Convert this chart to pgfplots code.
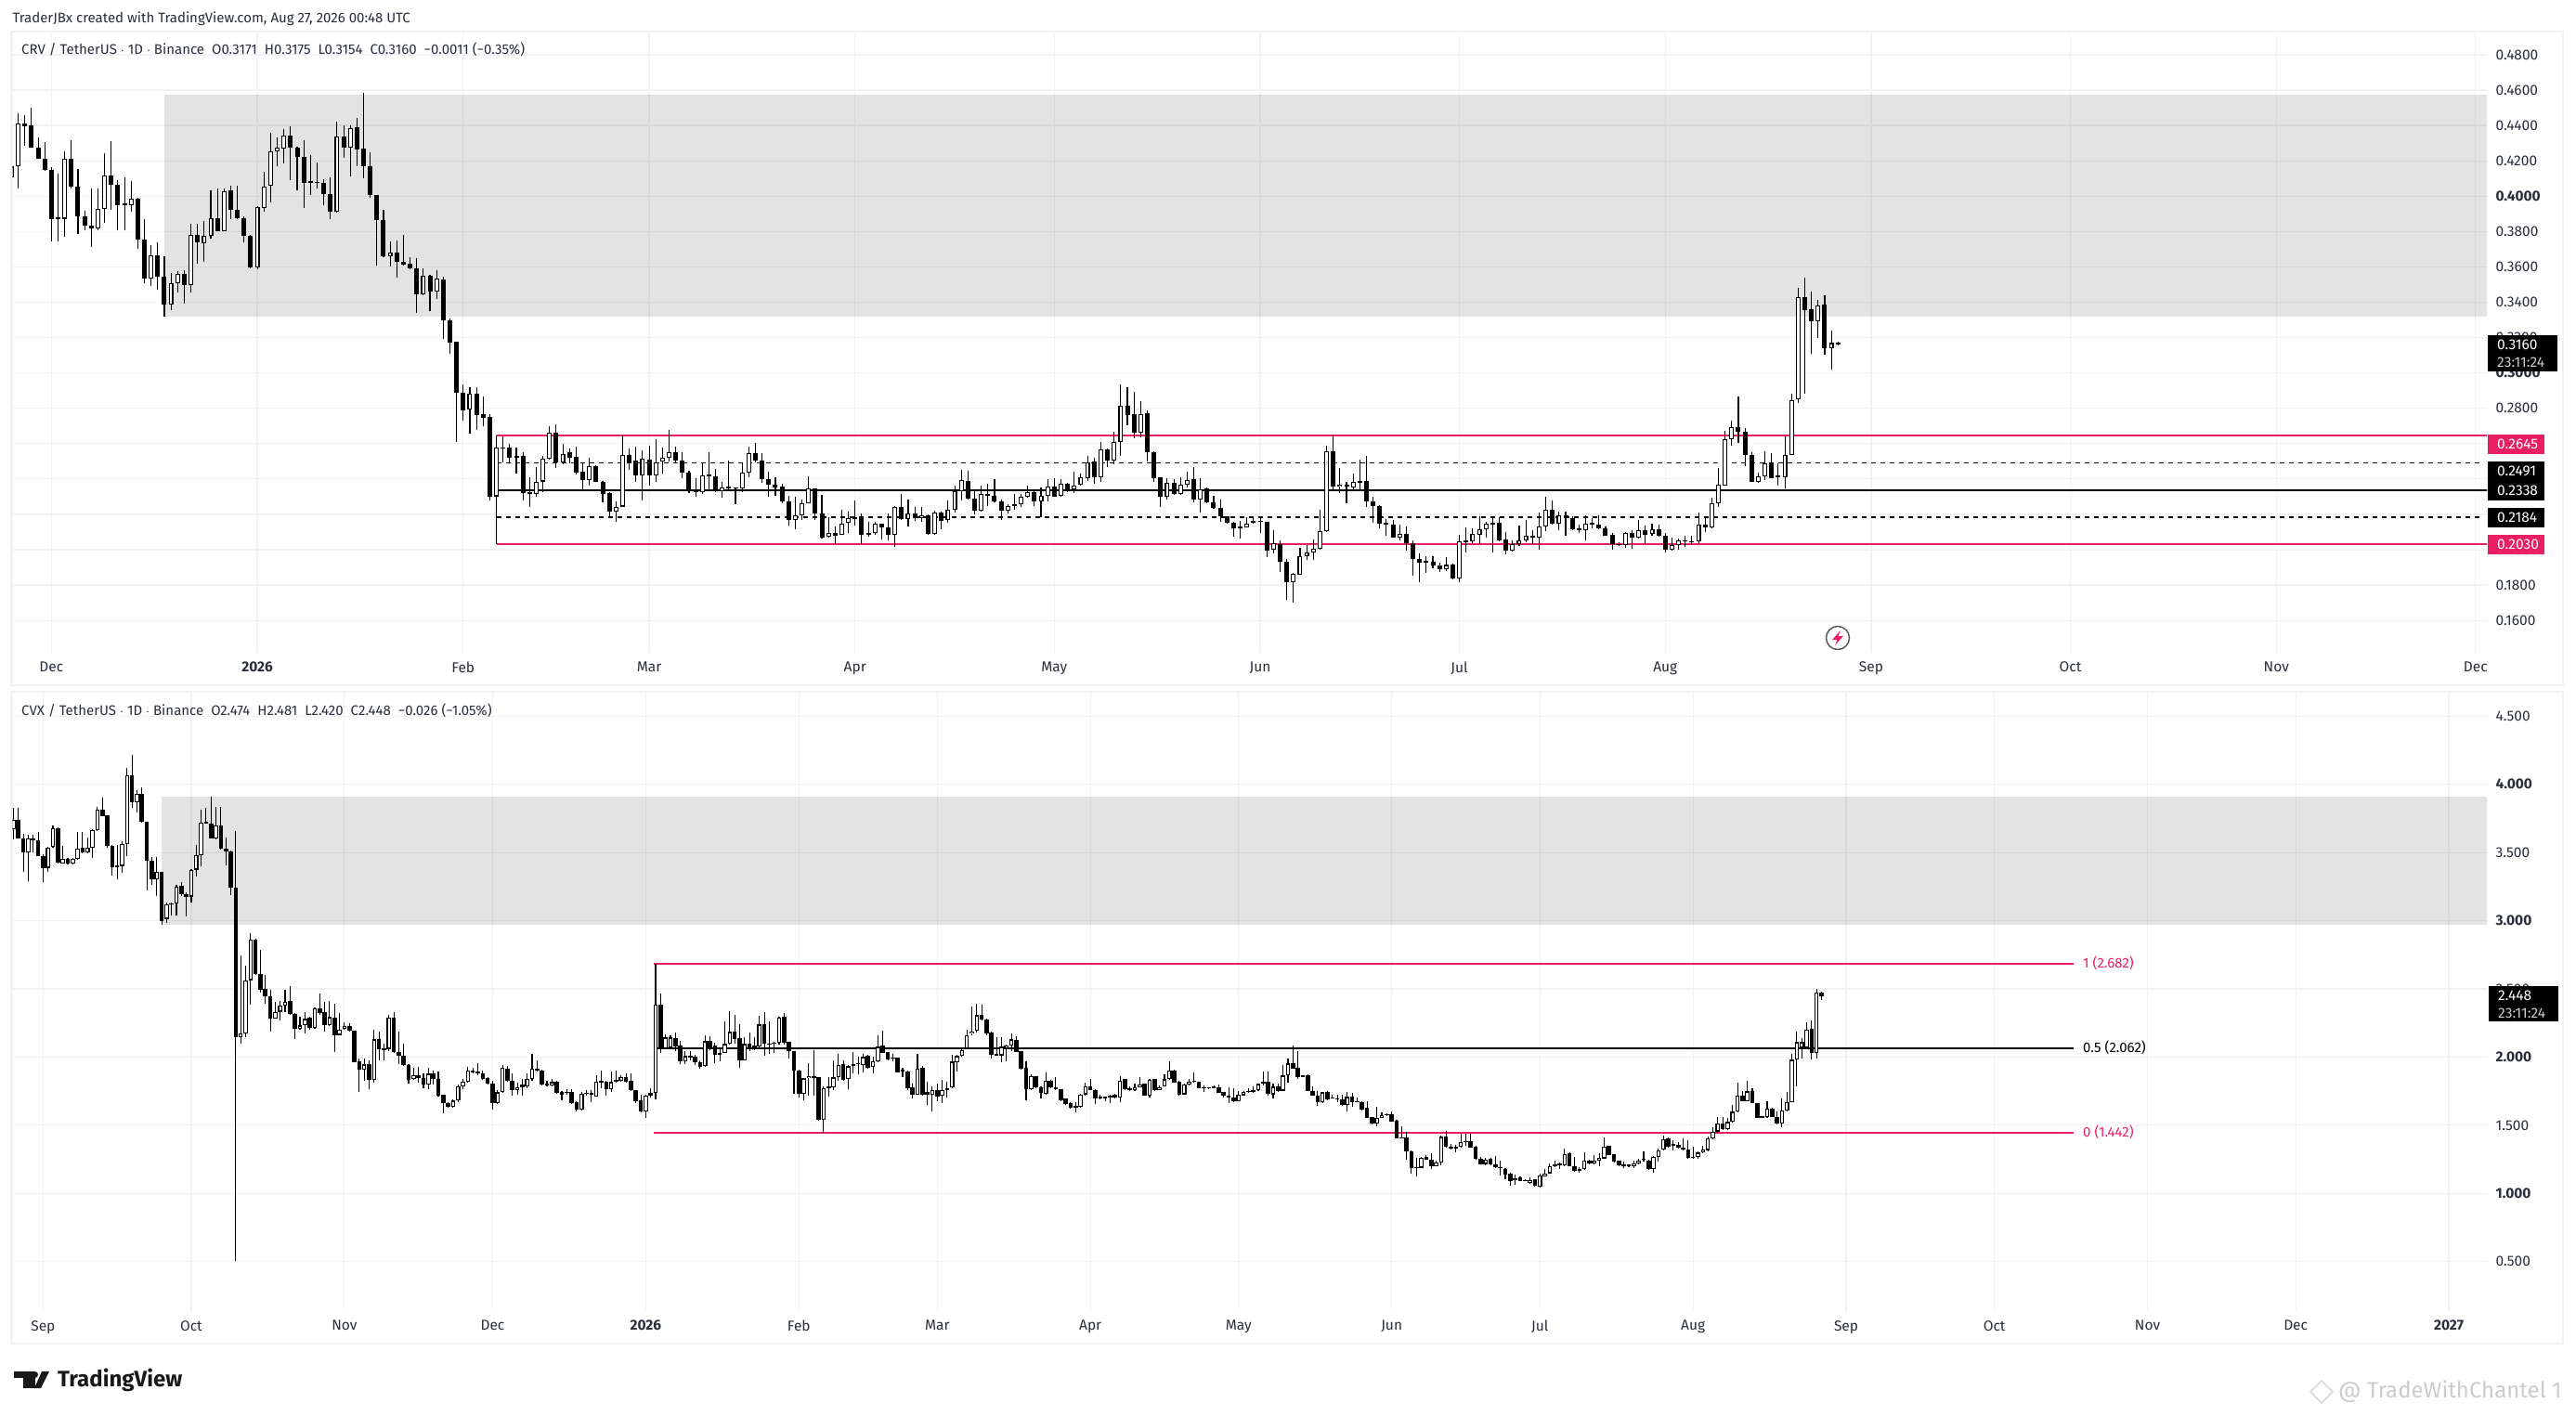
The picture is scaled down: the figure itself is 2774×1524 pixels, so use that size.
\documentclass[border=0pt]{standalone}
\usepackage{pgfplots}
\usepackage{pgfplotstable}
\usepackage{fontspec}
\setmainfont{Fira Sans}
\pgfplotsset{compat=1.18}
\definecolor{gridc}{HTML}{F0F2F6}
\definecolor{framec}{HTML}{F0F3F5}
\definecolor{pinkc}{HTML}{E91E63}
\definecolor{textc}{HTML}{2A2E39}
\pgfplotstableread{
x o h l c
-6 .4105 .4200 .4062 .4167
-5 .4170 .4470 .4044 .4412
-4 .4412 .4460 .4284 .4395
-3 .4398 .4502 .4272 .4274
-2 .4277 .4333 .4209 .4211
-1 .4212 .4304 .4141 .4146
0 .4151 .4165 .3746 .3869
1 .3875 .4127 .3746 .3873
2 .3872 .4251 .3772 .4212
3 .4212 .4319 .4044 .4053
4 .4056 .4156 .3784 .3884
5 .3886 .3918 .3807 .3832
6 .3834 .4041 .3711 .3816
7 .3818 .4041 .3807 .3927
8 .3927 .4241 .3851 .4118
9 .4118 .4309 .3921 .4063
10 .4065 .4090 .3806 .3948
11 .3956 .4104 .3809 .3954
12 .3949 .4083 .3914 .3984
13 .3983 .3991 .3704 .3753
14 .3755 .3872 .3506 .3532
15 .3532 .3723 .3490 .3665
16 .3665 .3741 .3469 .3542
17 .3544 .3658 .3321 .3385
18 .3386 .3565 .3353 .3507
19 .3507 .3577 .3456 .3560
20 .3560 .3583 .3390 .3495
21 .3497 .3846 .3456 .3781
22 .3781 .3846 .3616 .3737
23 .3734 .3860 .3627 .3776
24 .3776 .4035 .3758 .3876
25 .3876 .4041 .3800 .3802
26 .3802 .4044 .3800 .4030
27 .4035 .4060 .3869 .3921
28 .3923 .4058 .3872 .3874
29 .3877 .3888 .3741 .3774
30 .3777 .3780 .3592 .3595
31 .3595 .3941 .3584 .3939
32 .3934 .4139 .3912 .4055
33 .4058 .4356 .3965 .4255
34 .4255 .4330 .4170 .4276
35 .4270 .4377 .4184 .4344
36 .4344 .4393 .4088 .4274
37 .4276 .4281 .4035 .4221
38 .4223 .4319 .3935 .4074
39 .4080 .4235 .4005 .4078
40 .4081 .4190 .4044 .4074
41 .4077 .4097 .3948 .4011
42 .4012 .4107 .3872 .3911
43 .3911 .4419 .3909 .4339
44 .4339 .4398 .4219 .4274
45 .4274 .4398 .4109 .4386
46 .4388 .4440 .4167 .4263
47 .4267 .4583 .4100 .4169
48 .4170 .4246 .3991 .4004
49 .4007 .4007 .3606 .3863
50 .3865 .3925 .3656 .3658
51 .3658 .3746 .3600 .3681
52 .3681 .3749 .3537 .3627
53 .3628 .3781 .3606 .3614
54 .3618 .3655 .3588 .3590
55 .3592 .3651 .3342 .3442
56 .3442 .3592 .3437 .3549
57 .3549 .3556 .3348 .3458
58 .3458 .3583 .3420 .3534
59 .3530 .3544 .3193 .3295
60 .3297 .3307 .3106 .3171
61 .3176 .3179 .2611 .2890
62 .2886 .2935 .2732 .2790
63 .2792 .2920 .2658 .2881
64 .2881 .2920 .2676 .2764
65 .2765 .2867 .2700 .2748
66 .2749 .2767 .2280 .2301
67 .2302 .2646 .2030 .2576
68 .2575 .2641 .2492 .2573
69 .2576 .2597 .2492 .2522
70 .2528 .2579 .2430 .2522
71 .2528 .2549 .2278 .2322
72 .2323 .2409 .2243 .2316
73 .2316 .2465 .2301 .2386
74 .2386 .2532 .2325 .2513
75 .2513 .2699 .2507 .2660
76 .2660 .2709 .2464 .2495
77 .2495 .2599 .2483 .2542
78 .2550 .2574 .2486 .2522
79 .2523 .2581 .2427 .2437
80 .2439 .2490 .2335 .2395
81 .2395 .2518 .2364 .2471
82 .2472 .2478 .2384 .2385
83 .2386 .2390 .2267 .2316
84 .2318 .2325 .2180 .2216
85 .2216 .2272 .2158 .2244
86 .2244 .2646 .2241 .2534
87 .2534 .2572 .2451 .2492
88 .2505 .2581 .2381 .2419
89 .2419 .2560 .2276 .2516
90 .2512 .2586 .2363 .2419
91 .2419 .2626 .2386 .2495
92 .2498 .2577 .2433 .2519
93 .2519 .2679 .2500 .2553
94 .2553 .2584 .2486 .2504
95 .2505 .2554 .2407 .2435
96 .2437 .2449 .2318 .2340
97 .2333 .2402 .2302 .2325
98 .2325 .2495 .2314 .2421
99 .2420 .2554 .2340 .2418
100 .2416 .2455 .2328 .2330
101 .2332 .2381 .2293 .2351
102 .2352 .2502 .2340 .2350
103 .2353 .2353 .2255 .2346
104 .2346 .2486 .2325 .2437
105 .2437 .2581 .2412 .2547
106 .2547 .2602 .2495 .2504
107 .2505 .2547 .2376 .2398
108 .2400 .2442 .2298 .2367
109 .2369 .2411 .2307 .2351
110 .2358 .2372 .2262 .2272
111 .2274 .2305 .2139 .2167
112 .2169 .2302 .2118 .2193
113 .2193 .2283 .2170 .2263
114 .2263 .2416 .2261 .2346
115 .2347 .2349 .2167 .2204
116 .2205 .2311 .2065 .2070
117 .2074 .2186 .2069 .2095
118 .2095 .2132 .2034 .2077
119 .2084 .2228 .2083 .2148
120 .2153 .2218 .2097 .2179
121 .2181 .2281 .2139 .2179
122 .2179 .2205 .2030 .2083
123 .2083 .2160 .2076 .2093
124 .2093 .2160 .2086 .2149
125 .2148 .2149 .2060 .2125
126 .2127 .2205 .2055 .2083
127 .2083 .2249 .2018 .2240
128 .2242 .2316 .2170 .2172
129 .2174 .2284 .2130 .2205
130 .2205 .2244 .2162 .2177
131 .2177 .2244 .2156 .2195
132 .2195 .2200 .2084 .2088
133 .2088 .2219 .2083 .2211
134 .2211 .2214 .2114 .2162
135 .2167 .2281 .2153 .2225
136 .2226 .2360 .2212 .2332
137 .2332 .2454 .2281 .2395
138 .2390 .2444 .2286 .2288
139 .2290 .2341 .2202 .2219
140 .2219 .2360 .2217 .2314
141 .2316 .2372 .2249 .2304
142 .2305 .2397 .2270 .2272
143 .2274 .2284 .2170 .2219
144 .2219 .2255 .2205 .2246
145 .2246 .2316 .2228 .2256
146 .2258 .2314 .2240 .2300
147 .2300 .2360 .2293 .2325
148 .2326 .2337 .2249 .2272
149 .2272 .2354 .2184 .2304
150 .2305 .2397 .2272 .2356
151 .2358 .2402 .2298 .2302
152 .2304 .2398 .2302 .2372
153 .2374 .2377 .2328 .2337
154 .2339 .2442 .2323 .2362
155 .2367 .2433 .2360 .2411
156 .2404 .2530 .2391 .2495
157 .2497 .2521 .2372 .2409
158 .2409 .2612 .2381 .2568
159 .2568 .2574 .2465 .2504
160 .2504 .2665 .2483 .2611
161 .2609 .2933 .2533 .2816
162 .2816 .2919 .2702 .2761
163 .2765 .2891 .2628 .2661
164 .2661 .2840 .2635 .2768
165 .2770 .2788 .2498 .2551
166 .2553 .2556 .2381 .2407
167 .2412 .2412 .2240 .2298
168 .2298 .2402 .2283 .2379
169 .2379 .2397 .2311 .2314
170 .2314 .2411 .2311 .2369
171 .2367 .2442 .2353 .2395
172 .2397 .2469 .2267 .2283
173 .2283 .2402 .2209 .2340
174 .2349 .2354 .2265 .2267
175 .2269 .2307 .2232 .2235
176 .2237 .2284 .2158 .2188
177 .2190 .2191 .2149 .2151
178 .2153 .2156 .2074 .2119
179 .2127 .2162 .2065 .2125
180 .2126 .2184 .2125 .2148
181 .2151 .2184 .2149 .2163
182 .2162 .2179 .2097 .2160
183 .2160 .2160 .1960 .1993
184 .1999 .2113 .1977 .2037
185 .2034 .2055 .1872 .1930
186 .1932 .1946 .1718 .1814
187 .1814 .1867 .1700 .1863
188 .1860 .2013 .1856 .1963
189 .1963 .2028 .1941 .1983
190 .1984 .2060 .1941 .2004
191 .2004 .2228 .2002 .2104
192 .2104 .2590 .2102 .2558
193 .2558 .2653 .2344 .2355
194 .2356 .2460 .2320 .2369
195 .2369 .2386 .2262 .2356
196 .2353 .2433 .2344 .2384
197 .2377 .2507 .2344 .2388
198 .2390 .2530 .2241 .2272
199 .2274 .2297 .2153 .2246
200 .2249 .2253 .2121 .2146
201 .2148 .2174 .2081 .2146
202 .2142 .2169 .2066 .2067
203 .2067 .2142 .2055 .2090
204 .2090 .2134 .1993 .2035
205 .2037 .2055 .1855 .1946
206 .1948 .1981 .1814 .1925
207 .1933 .1965 .1867 .1931
208 .1932 .1963 .1893 .1909
209 .1911 .1925 .1874 .1888
210 .1888 .1958 .1879 .1914
211 .1916 .1923 .1834 .1835
212 .1837 .2086 .1814 .2048
213 .2049 .2128 .1986 .2047
214 .2048 .2121 .2037 .2088
215 .2086 .2190 .2034 .2114
216 .2116 .2160 .2069 .2146
217 .2153 .2179 .1986 .2144
218 .2153 .2186 .2046 .2051
219 .2056 .2100 .1976 .1993
220 .1993 .2051 .1990 .2030
221 .2030 .2135 .2021 .2051
222 .2053 .2169 .2042 .2079
223 .2079 .2109 .2034 .2067
224 .2069 .2209 .1999 .2130
225 .2130 .2302 .2107 .2225
226 .2227 .2281 .2144 .2146
227 .2146 .2214 .2113 .2195
228 .2195 .2218 .2078 .2179
229 .2179 .2190 .2113 .2114
230 .2117 .2144 .2095 .2115
231 .2111 .2193 .2055 .2146
232 .2148 .2179 .2121 .2147
233 .2144 .2197 .2116 .2119
234 .2121 .2134 .2078 .2081
235 .2086 .2095 .2002 .2030
236 .2031 .2042 .2021 .2029
237 .2025 .2100 .2013 .2095
238 .2095 .2112 .2007 .2067
239 .2069 .2170 .2065 .2111
240 .2112 .2139 .2030 .2083
241 .2088 .2148 .2081 .2116
242 .2116 .2144 .2074 .2079
243 .2081 .2095 .1986 .1999
244 .1999 .2069 .1997 .2028
245 .2028 .2065 .1999 .2051
246 .2053 .2077 .2014 .2046
247 .2047 .2077 .2025 .2045
248 .2046 .2212 .2034 .2142
249 .2142 .2183 .2098 .2125
250 .2125 .2295 .2120 .2262
251 .2262 .2460 .2244 .2367
252 .2362 .2670 .2360 .2626
253 .2626 .2728 .2586 .2693
254 .2695 .2865 .2604 .2667
255 .2669 .2690 .2472 .2535
256 .2537 .2554 .2381 .2383
257 .2383 .2437 .2376 .2416
258 .2416 .2555 .2393 .2488
259 .2486 .2544 .2402 .2407
260 .2416 .2486 .2362 .2414
261 .2411 .2639 .2349 .2537
262 .2537 .2884 .2535 .2846
263 .2851 .3481 .2828 .3431
264 .3431 .3539 .2881 .3356
265 .3358 .3460 .3109 .3293
266 .3293 .3414 .3196 .3384
267 .3386 .3439 .3102 .3140
268 .3140 .3239 .3019 .3169
269 .3171 .3175 .3154 .3160
}\crv
\pgfplotstableread{
x o h l c
-6 3.668 3.829 3.593 3.740
-5 3.740 3.829 3.600 3.604
-4 3.604 3.635 3.355 3.502
-3 3.502 3.632 3.288 3.604
-2 3.604 3.627 3.502 3.590
-1 3.590 3.654 3.472 3.474
0 3.474 3.488 3.285 3.385
1 3.388 3.543 3.358 3.538
2 3.543 3.701 3.538 3.679
3 3.679 3.688 3.416 3.427
4 3.421 3.549 3.416 3.455
5 3.455 3.460 3.413 3.419
6 3.421 3.460 3.413 3.455
7 3.455 3.654 3.446 3.529
8 3.532 3.654 3.496 3.499
9 3.499 3.613 3.496 3.535
10 3.532 3.668 3.460 3.665
11 3.665 3.832 3.660 3.815
12 3.815 3.904 3.765 3.768
13 3.771 3.771 3.535 3.549
14 3.552 3.557 3.330 3.394
15 3.402 3.557 3.302 3.394
16 3.402 3.585 3.349 3.563
17 3.563 4.120 3.474 4.065
18 4.067 4.217 3.826 3.868
19 3.868 3.959 3.793 3.932
20 3.932 3.979 3.718 3.724
21 3.724 3.724 3.219 3.441
22 3.441 3.468 3.266 3.305
23 3.305 3.468 3.183 3.358
24 3.360 3.360 2.969 3.000
25 3.014 3.133 2.983 3.122
26 3.122 3.133 3.036 3.127
27 3.127 3.266 3.036 3.252
28 3.258 3.280 3.183 3.194
29 3.197 3.211 3.030 3.177
30 3.177 3.377 3.133 3.374
31 3.374 3.557 3.327 3.482
32 3.482 3.815 3.396 3.718
33 3.724 3.826 3.710 3.715
34 3.715 3.909 3.602 3.604
35 3.604 3.835 3.599 3.701
36 3.701 3.832 3.521 3.529
37 3.529 3.613 3.405 3.507
38 3.510 3.516 3.188 3.244
39 3.244 3.660 .504 2.143
40 2.143 2.747 2.096 2.171
41 2.171 2.670 2.143 2.564
42 2.564 2.906 2.384 2.864
43 2.864 2.870 2.600 2.606
44 2.606 2.789 2.476 2.495
45 2.498 2.600 2.392 2.448
46 2.445 2.490 2.190 2.284
47 2.284 2.406 2.279 2.329
48 2.332 2.412 2.268 2.379
49 2.379 2.490 2.329 2.406
50 2.409 2.517 2.309 2.315
51 2.315 2.323 2.135 2.204
52 2.204 2.296 2.198 2.232
53 2.232 2.329 2.176 2.279
54 2.287 2.296 2.198 2.215
55 2.212 2.365 2.204 2.359
56 2.359 2.467 2.309 2.323
57 2.329 2.406 2.190 2.232
58 2.232 2.412 2.230 2.293
59 2.287 2.392 2.040 2.160
60 2.162 2.323 2.157 2.201
61 2.207 2.254 2.198 2.229
62 2.229 2.248 2.190 2.193
63 2.193 2.195 1.960 1.963
64 1.966 1.990 1.741 1.907
65 1.907 1.990 1.824 1.946
66 1.946 1.977 1.763 1.832
67 1.832 2.198 1.810 2.129
68 2.129 2.185 1.977 2.054
69 2.061 2.101 1.977 2.055
70 2.060 2.309 2.046 2.287
71 2.287 2.332 2.032 2.040
72 2.040 2.190 1.949 2.010
73 2.010 2.101 1.935 1.941
74 1.943 1.949 1.807 1.832
75 1.838 1.921 1.830 1.866
76 1.866 1.927 1.810 1.843
77 1.843 1.880 1.769 1.796
78 1.796 1.921 1.763 1.877
79 1.877 1.902 1.796 1.838
80 1.841 1.893 1.713 1.719
81 1.721 1.727 1.588 1.663
82 1.663 1.672 1.630 1.636
83 1.636 1.691 1.630 1.680
84 1.680 1.796 1.672 1.785
85 1.785 1.838 1.763 1.818
86 1.818 1.927 1.810 1.899
87 1.899 1.921 1.880 1.888
88 1.891 1.957 1.866 1.880
89 1.880 1.899 1.835 1.841
90 1.846 1.852 1.796 1.802
91 1.805 1.824 1.616 1.663
92 1.663 1.755 1.658 1.741
93 1.741 1.943 1.735 1.921
94 1.916 1.935 1.819 1.824
95 1.827 1.880 1.719 1.755
96 1.755 1.810 1.727 1.780
97 1.780 1.838 1.719 1.796
98 1.783 1.880 1.769 1.838
99 1.838 2.024 1.824 1.913
100 1.913 1.977 1.893 1.899
101 1.902 1.907 1.791 1.799
102 1.805 1.824 1.783 1.791
103 1.791 1.838 1.785 1.816
104 1.818 1.824 1.733 1.735
105 1.741 1.749 1.685 1.727
106 1.746 1.763 1.727 1.735
107 1.741 1.763 1.658 1.663
108 1.669 1.677 1.602 1.616
109 1.616 1.741 1.608 1.733
110 1.736 1.755 1.719 1.733
111 1.735 1.755 1.672 1.727
112 1.708 1.866 1.708 1.821
113 1.821 1.902 1.769 1.816
114 1.818 1.824 1.719 1.763
115 1.763 1.893 1.746 1.816
116 1.816 1.902 1.810 1.832
117 1.824 1.866 1.816 1.852
118 1.852 1.880 1.810 1.818
119 1.824 1.880 1.750 1.755
120 1.756 1.761 1.659 1.677
121 1.681 1.722 1.597 1.602
122 1.602 1.727 1.552 1.720
123 1.718 1.772 1.704 1.734
124 1.734 2.686 1.688 2.382
125 2.382 2.466 2.027 2.061
126 2.061 2.163 2.057 2.143
127 2.070 2.159 2.057 2.143
128 2.138 2.179 2.045 2.079
129 2.082 2.120 1.950 1.970
130 1.970 2.045 1.947 2.007
131 2.007 2.043 1.977 1.995
132 2.000 2.016 1.943 1.959
133 1.961 1.977 1.916 1.927
134 1.932 2.157 1.930 2.116
135 2.116 2.152 2.052 2.057
136 2.082 2.102 1.954 2.018
137 2.027 2.068 1.970 2.016
138 2.032 2.261 2.027 2.095
139 2.095 2.336 2.088 2.184
140 2.184 2.307 2.097 2.134
141 2.136 2.238 1.920 1.977
142 1.977 2.147 1.975 2.095
143 2.095 2.179 2.041 2.061
144 2.075 2.147 2.052 2.079
145 2.079 2.300 2.068 2.238
146 2.238 2.329 2.011 2.095
147 2.096 2.261 2.022 2.093
148 2.104 2.113 2.029 2.100
149 2.102 2.295 2.091 2.291
150 2.293 2.322 2.091 2.107
151 2.109 2.113 1.988 2.041
152 2.043 2.045 1.731 1.902
153 1.904 1.906 1.704 1.731
154 1.731 1.847 1.681 1.843
155 1.843 1.954 1.716 1.861
156 1.855 2.052 1.716 1.852
157 1.850 1.852 1.534 1.541
158 1.541 1.784 1.442 1.772
159 1.780 1.852 1.709 1.777
160 1.779 1.977 1.757 1.850
161 1.850 2.022 1.829 1.943
162 1.945 1.977 1.829 1.834
163 1.836 1.943 1.766 1.932
164 1.932 2.034 1.879 1.945
165 1.952 2.000 1.875 1.949
166 1.943 2.022 1.886 2.000
167 2.007 2.016 1.916 1.922
168 1.925 2.000 1.879 1.972
169 1.966 2.159 1.964 2.075
170 2.082 2.193 2.027 2.032
171 2.034 2.038 1.977 1.984
172 1.994 2.022 1.966 1.991
173 1.993 1.995 1.886 1.888
174 1.901 1.920 1.856 1.898
175 1.897 1.902 1.761 1.772
176 1.777 1.807 1.697 1.725
177 1.725 2.022 1.723 1.916
178 1.918 1.932 1.720 1.727
179 1.745 1.818 1.647 1.725
180 1.725 1.784 1.602 1.759
181 1.757 1.807 1.675 1.713
182 1.716 1.834 1.659 1.761
183 1.759 1.822 1.704 1.772
184 1.775 2.016 1.770 1.966
185 1.959 2.016 1.893 2.007
186 2.007 2.068 2.002 2.052
187 2.061 2.197 2.057 2.161
188 2.170 2.370 2.159 2.188
189 2.195 2.391 2.182 2.307
190 2.309 2.386 2.270 2.272
191 2.275 2.284 2.159 2.175
192 2.177 2.186 1.988 2.018
193 2.018 2.147 2.009 2.015
194 2.013 2.147 1.961 2.075
195 2.068 2.091 1.972 2.086
196 2.086 2.170 2.045 2.129
197 2.122 2.152 2.034 2.038
198 2.041 2.045 1.909 1.916
199 1.918 1.972 1.681 1.766
200 1.766 1.875 1.761 1.863
201 1.857 1.863 1.772 1.777
202 1.781 1.784 1.697 1.738
203 1.731 1.886 1.727 1.829
204 1.829 1.834 1.772 1.779
205 1.781 1.852 1.761 1.763
206 1.763 1.766 1.679 1.684
207 1.693 1.697 1.652 1.656
208 1.659 1.666 1.620 1.625
209 1.635 1.670 1.593 1.632
210 1.636 1.731 1.629 1.727
211 1.727 1.811 1.716 1.788
212 1.788 1.836 1.757 1.759
213 1.761 1.766 1.656 1.697
214 1.697 1.727 1.688 1.711
215 1.705 1.711 1.679 1.702
216 1.704 1.727 1.663 1.720
217 1.727 1.728 1.697 1.702
218 1.704 1.859 1.670 1.829
219 1.836 1.841 1.761 1.766
220 1.772 1.784 1.750 1.757
221 1.759 1.807 1.750 1.779
222 1.779 1.852 1.777 1.800
223 1.802 1.807 1.716 1.718
224 1.718 1.841 1.706 1.834
225 1.836 1.841 1.754 1.759
226 1.761 1.791 1.757 1.781
227 1.786 1.875 1.784 1.836
228 1.836 1.966 1.834 1.904
229 1.904 1.909 1.811 1.813
230 1.818 1.825 1.720 1.727
231 1.727 1.807 1.722 1.800
232 1.800 1.836 1.795 1.822
233 1.823 1.886 1.813 1.820
234 1.818 1.822 1.770 1.772
235 1.775 1.795 1.743 1.773
236 1.775 1.779 1.766 1.773
237 1.781 1.795 1.768 1.772
238 1.781 1.800 1.734 1.738
239 1.743 1.745 1.706 1.716
240 1.720 1.775 1.659 1.704
241 1.706 1.772 1.670 1.677
242 1.677 1.750 1.675 1.727
243 1.720 1.754 1.716 1.747
244 1.748 1.768 1.738 1.745
245 1.757 1.788 1.738 1.747
246 1.759 1.807 1.754 1.802
247 1.802 1.891 1.795 1.816
248 1.816 1.891 1.716 1.730
249 1.727 1.807 1.698 1.782
250 1.782 1.807 1.743 1.752
251 1.754 1.943 1.750 1.864
252 1.864 1.989 1.814 1.952
253 1.952 2.084 1.914 1.916
254 1.918 2.041 1.841 1.852
255 1.864 1.870 1.856 1.857
256 1.864 1.875 1.748 1.750
257 1.754 1.784 1.716 1.718
258 1.720 1.750 1.641 1.668
259 1.668 1.745 1.664 1.741
260 1.743 1.750 1.686 1.689
261 1.699 1.727 1.693 1.697
262 1.698 1.723 1.670 1.689
263 1.689 1.727 1.643 1.648
264 1.650 1.743 1.602 1.707
265 1.707 1.734 1.636 1.670
266 1.673 1.704 1.666 1.671
267 1.668 1.675 1.611 1.616
268 1.625 1.675 1.550 1.554
269 1.557 1.559 1.504 1.511
270 1.514 1.632 1.493 1.554
271 1.554 1.591 1.552 1.573
272 1.580 1.589 1.570 1.578
273 1.584 1.598 1.523 1.527
274 1.536 1.539 1.402 1.404
275 1.413 1.489 1.402 1.404
276 1.413 1.448 1.245 1.311
277 1.311 1.314 1.143 1.189
278 1.190 1.261 1.125 1.187
279 1.189 1.266 1.184 1.261
280 1.264 1.284 1.245 1.248
281 1.250 1.295 1.182 1.200
282 1.200 1.243 1.198 1.227
283 1.227 1.425 1.204 1.414
284 1.420 1.461 1.338 1.343
285 1.345 1.363 1.325 1.329
286 1.329 1.357 1.302 1.343
287 1.343 1.436 1.334 1.379
288 1.386 1.436 1.352 1.375
289 1.386 1.439 1.334 1.338
290 1.343 1.348 1.250 1.257
291 1.257 1.268 1.211 1.214
292 1.216 1.261 1.209 1.250
293 1.252 1.261 1.209 1.214
294 1.216 1.273 1.186 1.191
295 1.193 1.243 1.129 1.184
296 1.182 1.186 1.102 1.141
297 1.143 1.152 1.057 1.093
298 1.097 1.141 1.061 1.113
299 1.116 1.125 1.088 1.093
300 1.096 1.102 1.088 1.093
301 1.079 1.120 1.070 1.100
302 1.102 1.107 1.052 1.057
303 1.050 1.143 1.043 1.134
304 1.125 1.182 1.123 1.145
305 1.148 1.220 1.143 1.202
306 1.200 1.243 1.193 1.216
307 1.215 1.227 1.182 1.212
308 1.204 1.329 1.198 1.291
309 1.293 1.300 1.198 1.202
310 1.202 1.266 1.157 1.164
311 1.166 1.193 1.152 1.182
312 1.179 1.304 1.175 1.243
313 1.243 1.245 1.216 1.220
314 1.220 1.279 1.216 1.241
315 1.238 1.295 1.198 1.261
316 1.257 1.409 1.252 1.345
317 1.348 1.352 1.279 1.284
318 1.286 1.291 1.227 1.234
319 1.238 1.243 1.202 1.207
320 1.208 1.232 1.188 1.206
321 1.208 1.216 1.193 1.206
322 1.200 1.238 1.188 1.220
323 1.220 1.257 1.216 1.243
324 1.251 1.307 1.234 1.249
325 1.243 1.248 1.175 1.179
326 1.179 1.277 1.152 1.268
327 1.268 1.329 1.234 1.318
328 1.323 1.423 1.318 1.398
329 1.402 1.407 1.336 1.341
330 1.361 1.393 1.318 1.352
331 1.357 1.375 1.329 1.336
332 1.338 1.402 1.316 1.320
333 1.325 1.391 1.257 1.261
334 1.264 1.345 1.257 1.262
335 1.264 1.311 1.257 1.298
336 1.298 1.352 1.293 1.323
337 1.318 1.420 1.311 1.404
338 1.404 1.484 1.398 1.454
339 1.454 1.557 1.443 1.511
340 1.514 1.557 1.466 1.473
341 1.473 1.552 1.466 1.523
342 1.523 1.648 1.516 1.598
343 1.598 1.811 1.593 1.720
344 1.720 1.750 1.675 1.677
345 1.677 1.823 1.675 1.748
346 1.748 1.773 1.659 1.664
347 1.659 1.664 1.550 1.554
348 1.562 1.570 1.552 1.560
349 1.557 1.675 1.552 1.623
350 1.623 1.627 1.557 1.559
351 1.561 1.602 1.507 1.511
352 1.514 1.693 1.484 1.609
353 1.609 1.743 1.602 1.670
354 1.670 2.023 1.666 1.980
355 1.980 2.186 1.784 2.109
356 2.068 2.136 1.989 2.109
357 2.068 2.255 2.061 2.202
358 2.204 2.266 1.984 2.032
359 2.027 2.500 1.989 2.474
360 2.474 2.481 2.420 2.448
}\cvx
% table, wick width, body width, inner width, minimum half body, outline in price units
\newcommand{\candles}[6]{%
  \def\wk{}\def\bd{}\def\wh{}%
  \pgfplotstablegetrowsof{#1}\pgfmathtruncatemacro\nrw{\pgfplotsretval-1}%
  \pgfplotsforeachungrouped \rw in {0,...,\nrw}{%
    \pgfplotstablegetelem{\rw}{x}\of{#1}\let\vX\pgfplotsretval
    \pgfplotstablegetelem{\rw}{o}\of{#1}\let\vO\pgfplotsretval
    \pgfplotstablegetelem{\rw}{h}\of{#1}\let\vH\pgfplotsretval
    \pgfplotstablegetelem{\rw}{l}\of{#1}\let\vL\pgfplotsretval
    \pgfplotstablegetelem{\rw}{c}\of{#1}\let\vC\pgfplotsretval
    \pgfmathsetmacro\tp{max(\vO,\vC)}%
    \pgfmathsetmacro\bt{min(\vO,\vC)}%
    \pgfmathsetmacro\tb{max(\tp,(\tp+\bt)/2+#5)}%
    \pgfmathsetmacro\bb{min(\bt,(\tp+\bt)/2-#5)}%
    \edef\wk{\wk(\vX,\vH)(\vX,\vL)(\vX,nan)}%
    \edef\bd{\bd(\vX,\tb)(\vX,\bb)(\vX,nan)}%
    \ifdim\vC pt<\vO pt\relax\else
      \pgfmathsetmacro\wa{\bt+#6}%
      \pgfmathsetmacro\wb{\tp-#6}%
      \ifdim\wa pt<\wb pt\relax
        \edef\wh{\wh(\vX,\wa)(\vX,\wb)(\vX,nan)}%
      \fi
    \fi
  }%
  \edef\tmp{\noexpand\addplot[draw=black, line width=#2pt, no marks, forget plot, unbounded coords=jump] coordinates {\wk};}\tmp
  \edef\tmp{\noexpand\addplot[draw=black, line width=#3pt, no marks, forget plot, unbounded coords=jump] coordinates {\bd};}\tmp
  \edef\tmp{\noexpand\addplot[draw=white, line width=#4pt, no marks, forget plot, unbounded coords=jump] coordinates {\wh};}\tmp
}
\newcommand{\fs}[1]{\fontsize{#1}{#1}\selectfont}
\pgfplotsset{tvaxis/.style={
  scale only axis, axis line style={draw=none}, tick style={draw=none},
  major tick length=0pt,
  grid=major, major grid style={gridc, line width=1.2pt},
  yticklabel pos=right, clip=true,
  yticklabel style={anchor=west, xshift=6pt, text=textc, font=\fs{15.5}},
  xticklabel style={text=textc, font=\fs{15.5}, yshift=-6pt},
}}
\newcommand{\tag}[4]{% y, colour, text, right edge
  \fill[#2] (2679pt,-#1pt+10.5pt) rectangle (2740pt,-#1pt-10.5pt);
  \node[anchor=west, inner sep=0pt, text=white, font=\fs{15.5}] at (2689pt,-#1pt) {#3};}
\begin{document}
\begin{tikzpicture}[x=1pt,y=1pt]
\path[use as bounding box] (0,0) rectangle (2774,-1524);
\fill[white] (0,0) rectangle (2774,-1524);
\draw[framec, line width=2.5pt] (12.5,-34) rectangle (2760,-738);
\draw[framec, line width=2.5pt] (12.5,-745) rectangle (2760,-1447);
\node[anchor=west, inner sep=0pt, text=textc, font=\fs{15}] at (13.4,-20) {TraderJBx created with TradingView.com, Aug 27, 2026 00:48 UTC};

\begin{axis}[tvaxis, at={(13.4pt,-34pt)}, anchor=north west, width=2664.6pt, height=669pt,
  xmin=-5.87, xmax=366.7, ymin=.1417, ymax=.4931,
  xtick={0,31,62,90,121,151,182,212,243,274,304,335,365},
  xticklabels={Dec,\textbf{2026},Feb,Mar,Apr,May,Jun,Jul,Aug,Sep,Oct,Nov,Dec},
  ytick={.16,.18,.20,.22,.24,.26,.28,.30,.32,.34,.36,.38,.40,.42,.44,.46,.48},
  yticklabels={0.1600,0.1800,0.2000,0.2200,0.2400,0.2600,0.2800,\textbf{0.3000},0.3200,0.3400,0.3600,0.3800,\textbf{0.4000},0.4200,0.4400,0.4600,0.4800},
]
\addplot[draw=none, fill=black, fill opacity=.11, forget plot] coordinates {(17,.332)(367,.332)(367,.4574)(17,.4574)} --cycle;
\addplot[pinkc, line width=2.2pt, forget plot] coordinates {(67,.2645)(367,.2645)};
\addplot[black, dash pattern=on 5pt off 5pt, line width=1.2pt, forget plot] coordinates {(67,.2491)(365.9,.2491)};
\addplot[black, line width=2.2pt, forget plot] coordinates {(67,.2338)(367,.2338)};
\addplot[black, dash pattern=on 5pt off 5pt, line width=1.2pt, forget plot] coordinates {(67,.2184)(365.9,.2184)};
\addplot[pinkc, line width=2.2pt, forget plot] coordinates {(67,.2030)(367,.2030)};
\candles{\crv}{1.1}{5}{2.7}{.0004}{.0006}
\end{axis}
\node[anchor=west, inner sep=0pt, text=textc, font=\fs{15}] at (23,-53) {CRV / TetherUS $\cdot$ 1D $\cdot$ Binance\hspace{8pt}O0.3171\hspace{8pt}H0.3175\hspace{8pt}L0.3154\hspace{8pt}C0.3160\hspace{8pt}−0.0011 (−0.35\%)};
\tag{478}{pinkc}{0.2645}{}
\tag{507.5}{black}{0.2491}{}
\tag{528}{black}{0.2338}{}
\tag{557}{black}{0.2184}{}
\tag{586.5}{pinkc}{0.2030}{}
\fill[black] (2679,-361) rectangle (2754,-400);
\node[anchor=west, inner sep=0pt, text=white, font=\fs{15.5}] at (2689,-371.5) {0.3160};
\node[anchor=west, inner sep=0pt, text=white!80!black, font=\fs{15.5}] at (2689,-390) {23:11:24};
\draw[black!65, line width=1.5pt] (1979,-687) circle (12.5);
\fill[pinkc] (1982,-679) -- (1973,-689) -- (1978.5,-689) -- (1976,-695) -- (1985,-685) -- (1979.5,-685) -- cycle;

\begin{axis}[tvaxis, at={(13.4pt,-745pt)}, anchor=north west, width=2664.6pt, height=667.7pt,
  xmin=-6.2, xmax=494.7, ymin=.132, ymax=4.679,
  xtick={0,30,61,91,122,153,181,212,242,273,303,334,365,395,426,456,487},
  xticklabels={Sep,Oct,Nov,Dec,\textbf{2026},Feb,Mar,Apr,May,Jun,Jul,Aug,Sep,Oct,Nov,Dec,\textbf{2027}},
  ytick={.5,1,1.5,2,2.5,3,3.5,4,4.5},
  yticklabels={0.500,\textbf{1.000},1.500,\textbf{2.000},2.500,\textbf{3.000},3.500,\textbf{4.000},4.500},
]
\addplot[draw=none, fill=black, fill opacity=.11, forget plot] coordinates {(24,2.97)(495,2.97)(495,3.91)(24,3.91)} --cycle;
\addplot[pinkc, line width=2.2pt, forget plot] coordinates {(123.7,2.682)(411,2.682)};
\addplot[black, line width=2.2pt, forget plot] coordinates {(123.7,2.062)(411,2.062)};
\addplot[pinkc, line width=2.2pt, forget plot] coordinates {(123.7,1.442)(411,1.442)};
\candles{\cvx}{1.1}{4.6}{2.4}{.005}{.008}
\end{axis}
\node[anchor=west, inner sep=0pt, text=textc, font=\fs{15}] at (23,-765) {CVX / TetherUS $\cdot$ 1D $\cdot$ Binance\hspace{8pt}O2.474\hspace{8pt}H2.481\hspace{8pt}L2.420\hspace{8pt}C2.448\hspace{8pt}−0.026 (−1.05\%)};
\node[anchor=west, inner sep=0pt, text=pinkc, font=\fs{15}] at (2243,-1037) {1 (2.682)};
\node[anchor=west, inner sep=0pt, text=black, font=\fs{15}] at (2243,-1128.5) {0.5 (2.062)};
\node[anchor=west, inner sep=0pt, text=pinkc, font=\fs{15}] at (2243,-1219) {0 (1.442)};
\fill[black] (2680,-1062) rectangle (2754.5,-1100);
\node[anchor=west, inner sep=0pt, text=white, font=\fs{15.5}] at (2690,-1072) {2.448};
\node[anchor=west, inner sep=0pt, text=white!80!black, font=\fs{15.5}] at (2690,-1091) {23:11:24};
% footer
\fill[black!90] (15,-1477) rectangle (38,-1483.5);
\fill[black!90] (24.5,-1477) rectangle (38,-1495);
\fill[black!90] (37.5,-1480.5) circle (3.5);
\fill[black!90] (53,-1477) -- (45,-1477) -- (37,-1495) -- (44,-1495) -- cycle;
\node[anchor=west, inner sep=0pt, text=black!90, font=\bfseries\fs{24}] at (62,-1486) {TradingView};
\node[anchor=west, inner sep=0pt, text=black!20, font=\fs{24}] at (2518,-1499) {@ TradeWithChantel 1};
\draw[black!15, line width=1.5pt] (2500,-1487) -- (2512,-1499) -- (2500,-1511) -- (2488,-1499) -- cycle;
\end{tikzpicture}
\end{document}
